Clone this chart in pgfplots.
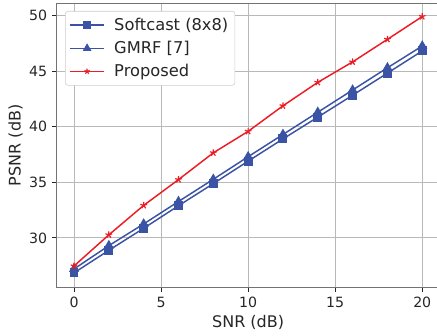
\documentclass[border=0pt]{standalone}
\usepackage{pgfplots}
\pgfplotsset{compat=1.18}
\usepackage{fontspec}
\setmainfont{DejaVu Sans}
\definecolor{cblue}{HTML}{3A53A4}
\definecolor{cred}{HTML}{ED1C24}
\definecolor{tickc}{HTML}{262626}
\begin{document}
\begin{tikzpicture}
\begin{axis}[
  scale only axis,
  width=287.3pt, height=213pt,
  xmin=-1, xmax=21, ymin=25.55, ymax=51.1,
  xtick={0,5,10,15,20}, ytick={30,35,40,45,50},
  grid=major,
  grid style={color=black!28, line width=0.6pt},
  axis line style={color=black!55, line width=0.9pt},
  tick style={color=tickc, line width=0.7pt},
  tick align=outside, tick pos=left,
  major tick length=3.5pt,
  ticklabel style={font=\fontsize{10.6}{12}\selectfont, text=tickc},
  /pgf/number format/assume math mode=true,
  xlabel={SNR (dB)}, ylabel={PSNR (dB)},
  label style={font=\fontsize{12}{14}\selectfont, text=tickc},
  xlabel style={yshift=1pt},
  ylabel style={yshift=-2pt},
  legend style={at={(0.022,0.973)}, anchor=north west, draw=black!20, rounded corners=2pt, fill=white,
    font=\fontsize{12.2}{14}\selectfont, text=tickc, row sep=2.6pt, inner sep=3pt,
    /tikz/every odd column/.append style={column sep=5pt}},
  legend cell align=left,
  legend image post style={every mark/.append style={scale=0.8}},
  legend image code/.code={\draw[mark repeat=2,mark phase=2,#1] plot coordinates {(0cm,0cm) (0.45cm,0cm) (0.9cm,0cm)};},
]
\addplot[color=cblue, line width=1.1pt, mark=square*, mark size=2.8pt, mark options={fill=cblue}] coordinates {
(0,26.85) (2,28.88) (4,30.86) (6,32.89) (8,34.88) (10,36.9) (12,38.9) (14,40.86) (16,42.83) (18,44.82) (20,46.82)};
\addlegendentry{Softcast (8x8)}
\addplot[color=cblue, line width=1.1pt, mark=triangle*, mark size=3.3pt, mark options={fill=cblue}] coordinates {
(0,27.2) (2,29.3) (4,31.25) (6,33.27) (8,35.27) (10,37.3) (12,39.3) (14,41.3) (16,43.3) (18,45.3) (20,47.26)};
\addlegendentry{GMRF [7]}
\addplot[color=cred, line width=1.1pt, mark=star, mark size=2.6pt, mark options={fill=cred, line width=0.9pt}] coordinates {
(0,27.47) (2,30.27) (4,32.92) (6,35.24) (8,37.65) (10,39.58) (12,41.88) (14,43.99) (16,45.83) (18,47.86) (20,49.91)};
\addlegendentry{Proposed}
\end{axis}
\pgfresetboundingbox
\path (-42.45pt,-35.78pt) rectangle (285.3pt,215.5pt);
\end{tikzpicture}
\end{document}
